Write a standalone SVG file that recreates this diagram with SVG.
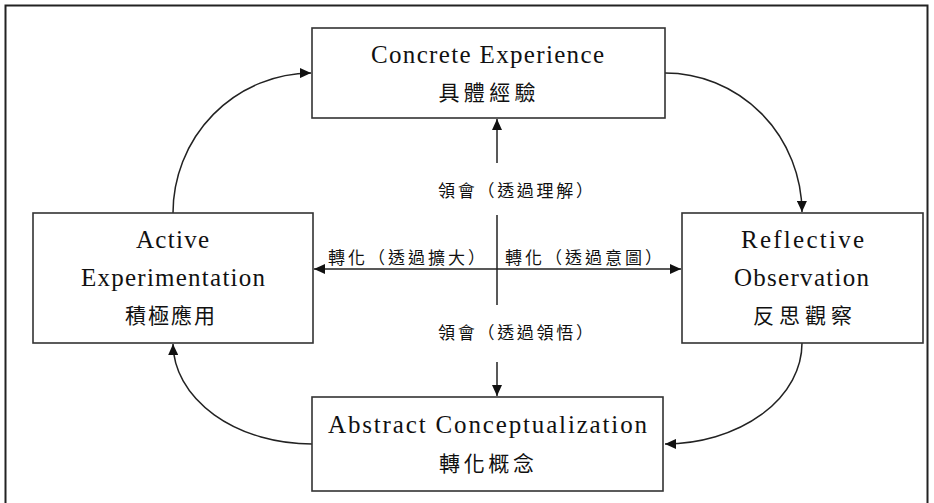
<svg xmlns="http://www.w3.org/2000/svg" width="934" height="503" viewBox="0 0 934 503">
  <defs>
    <marker id="arr" markerUnits="userSpaceOnUse" markerWidth="12" markerHeight="10" refX="11" refY="5" orient="auto-start-reverse">
      <path d="M0,0 L11,5 L0,10 z" fill="#111"/>
    </marker>
    <style>
      .box { fill: #fff; stroke: #333; stroke-width: 1.6; }
      .en { font-family: "Liberation Serif", serif; font-size: 25px; fill: #111; text-anchor: middle; }
      .zh { font-family: "Noto Sans CJK TC", "Noto Sans CJK SC", sans-serif; font-size: 21px; fill: #111; text-anchor: middle; }
      .lbl { font-family: "Noto Sans CJK TC", "Noto Sans CJK SC", sans-serif; font-size: 17px; fill: #111; text-anchor: middle; }
      .ln { fill: none; stroke: #222; stroke-width: 1.5; }
    </style>
  </defs>
  <rect x="0" y="0" width="934" height="503" fill="#fff"/>
  <rect id="frame" x="5.5" y="5.5" width="922" height="510" fill="none" stroke="#222" stroke-width="2"/>

  <g id="connectors">
    <path class="ln" d="M173,213 A139,140 0 0 1 311,73" marker-end="url(#arr)"/>
    <path class="ln" d="M665,73 A137,140 0 0 1 802,212" marker-end="url(#arr)"/>
    <path class="ln" d="M802,343 A138,101 0 0 1 665,444" marker-end="url(#arr)"/>
    <path class="ln" d="M312,444 A139,101 0 0 1 173,344" marker-end="url(#arr)"/>
    <path class="ln" d="M497,163 L497,119" marker-end="url(#arr)"/>
    <path class="ln" d="M497,215 L497,305"/>
    <path class="ln" d="M497,362 L497,396" marker-end="url(#arr)"/>
    <path class="ln" d="M314,269 L681,269" marker-start="url(#arr)" marker-end="url(#arr)"/>
    <text class="lbl" x="515.5" y="197" textLength="155" lengthAdjust="spacing">領會（透過理解）</text>
    <text class="lbl" x="406.5" y="264" textLength="157" lengthAdjust="spacing">轉化（透過擴大）</text>
    <text class="lbl" x="583.5" y="264" textLength="157" lengthAdjust="spacing">轉化（透過意圖）</text>
    <text class="lbl" x="515.5" y="339" textLength="155" lengthAdjust="spacing">領會（透過領悟）</text>
  </g>

  <g id="concrete-experience">
    <rect class="box" x="312" y="28" width="353" height="90"/>
    <text class="en" x="487.5" y="63" textLength="233" lengthAdjust="spacing">Concrete Experience</text>
    <text class="zh" x="487" y="100" textLength="97" lengthAdjust="spacing">具體經驗</text>
  </g>

  <g id="active-experimentation">
    <rect class="box" x="33" y="213" width="280" height="130"/>
    <text class="en" x="172.5" y="248" textLength="73" lengthAdjust="spacing">Active</text>
    <text class="en" x="173" y="286" textLength="184" lengthAdjust="spacing">Experimentation</text>
    <text class="zh" x="170" y="323" textLength="90" lengthAdjust="spacing">積極應用</text>
  </g>

  <g id="reflective-observation">
    <rect class="box" x="682" y="213" width="241" height="130"/>
    <text class="en" x="802.5" y="248" textLength="123" lengthAdjust="spacing">Reflective</text>
    <text class="en" x="801.5" y="286" textLength="135" lengthAdjust="spacing">Observation</text>
    <text class="zh" x="802.5" y="323" textLength="99" lengthAdjust="spacing">反思觀察</text>
  </g>

  <g id="abstract-conceptualization">
    <rect class="box" x="312" y="397" width="351" height="94"/>
    <text class="en" x="487.5" y="433" textLength="319" lengthAdjust="spacing">Abstract Conceptualization</text>
    <text class="zh" x="486.5" y="471" textLength="95" lengthAdjust="spacing">轉化概念</text>
  </g>
</svg>
